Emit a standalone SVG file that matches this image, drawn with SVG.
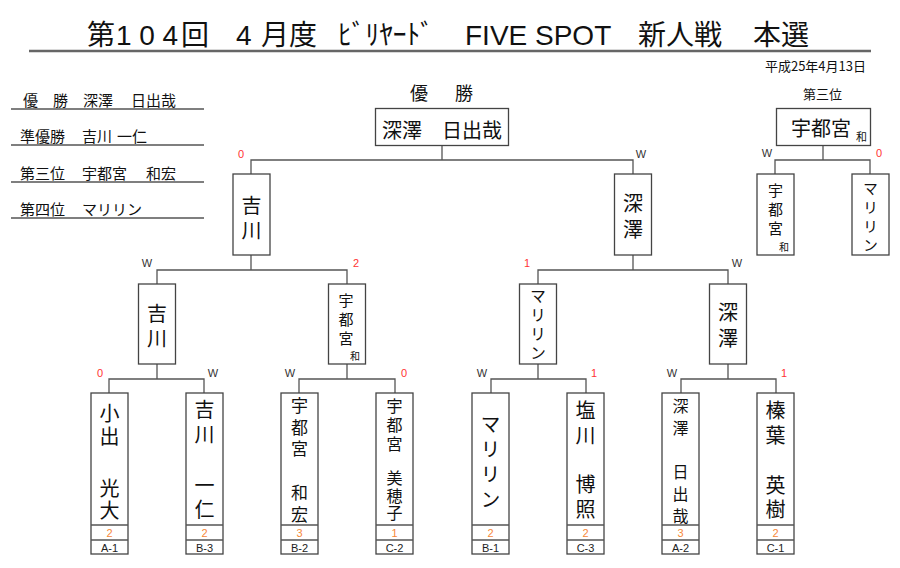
<svg xmlns="http://www.w3.org/2000/svg" width="900" height="568" viewBox="0 0 900 568">
<style>
.jp{font-family:"Noto Sans CJK JP","Liberation Sans",sans-serif;fill:#111}
.lat{font-family:"Liberation Sans","Noto Sans CJK JP",sans-serif}
.box{fill:#fff;stroke:#444;stroke-width:1.3}
.con{fill:none;stroke:#555;stroke-width:1.3}
.ul{stroke:#555;stroke-width:1.5}
.vt{writing-mode:vertical-rl;dominant-baseline:central}
.v{text-anchor:middle;dominant-baseline:central}
.w{font-family:"Liberation Sans",sans-serif;font-size:11px;fill:#333;text-anchor:middle}
.r{font-family:"Liberation Sans",sans-serif;font-size:11px;fill:#f33;text-anchor:middle}
.sc{font-family:"Liberation Sans",sans-serif;font-size:11px;fill:#f7883a;text-anchor:middle}
.lb{font-family:"Liberation Sans",sans-serif;font-size:11px;fill:#222;text-anchor:middle}
.f20{font-size:20px}.f17{font-size:17px}.f16{font-size:16px}.f15{font-size:15px}.f10{font-size:10px}
</style>
<rect width="900" height="568" fill="#fff"/>
<g id="title">
<text class="jp" y="45" font-size="28"><tspan x="87">第</tspan><tspan x="116" class="lat" textLength="62">104</tspan><tspan x="181">回</tspan><tspan x="236" class="lat">4</tspan><tspan x="261">月度</tspan><tspan x="338" textLength="96" lengthAdjust="spacingAndGlyphs">ﾋﾞﾘﾔｰﾄﾞ</tspan><tspan x="465" class="lat">FIVE SPOT</tspan><tspan x="638">新人戦</tspan><tspan x="753">本選</tspan></text>
<line x1="29" y1="51" x2="871" y2="51" stroke="#666" stroke-width="2.5"/>
<text class="jp" x="866" y="71" font-size="13" text-anchor="end">平成25年4月13日</text>
</g>
<g id="results">
<text class="jp" y="106" font-size="15"><tspan x="23">優</tspan><tspan x="53">勝</tspan><tspan x="83">深澤</tspan><tspan x="131">日出哉</tspan></text>
<text class="jp" y="142" font-size="15"><tspan x="20">準優勝</tspan><tspan x="82">吉川</tspan><tspan x="117">一仁</tspan></text>
<text class="jp" y="179" font-size="15"><tspan x="20">第三位</tspan><tspan x="82">宇都宮</tspan><tspan x="146">和宏</tspan></text>
<text class="jp" y="215" font-size="15"><tspan x="20">第四位</tspan><tspan x="82">マリリン</tspan></text>
<line class="ul" x1="11" y1="109" x2="204" y2="109"/>
<line class="ul" x1="11" y1="145" x2="204" y2="145"/>
<line class="ul" x1="11" y1="182" x2="204" y2="182"/>
<line class="ul" x1="11" y1="218" x2="204" y2="218"/>
</g>
<g id="connectors">
<path class="con" d="M442 146V160M251 174V160H633V174"/>
<path class="con" d="M251 255V270M157 284V270H347V284"/>
<path class="con" d="M633 255V270M538 284V270H728V284"/>
<path class="con" d="M157 364V379M109 393V379H204V393"/>
<path class="con" d="M347 364V379M299 393V379H395V393"/>
<path class="con" d="M538 364V379M491 393V379H586V393"/>
<path class="con" d="M728 364V379M681 393V379H776V393"/>
<path class="con" d="M823 146V160M775 174V160H870V174"/>
</g>
<g id="scores">
<text class="r" x="241" y="158">0</text><text class="w" x="641" y="158">W</text>
<text class="w" x="147" y="267">W</text><text class="r" x="356" y="267">2</text>
<text class="r" x="527" y="267">1</text><text class="w" x="737" y="267">W</text>
<text class="r" x="100" y="377">0</text><text class="w" x="213" y="377">W</text>
<text class="w" x="290" y="377">W</text><text class="r" x="404" y="377">0</text>
<text class="w" x="482" y="377">W</text><text class="r" x="594" y="377">1</text>
<text class="w" x="672" y="377">W</text><text class="r" x="784" y="377">1</text>
<text class="w" x="767" y="157">W</text><text class="r" x="879" y="157">0</text>
</g>
<g id="champion">
<text class="jp" y="100" font-size="18"><tspan x="410">優</tspan><tspan x="455">勝</tspan></text>
<rect class="box" x="375.5" y="108.5" width="133" height="37"/>
<text class="jp" x="382" y="138" font-size="20">深澤　日出哉</text>
</g>
<g id="third-place">
<text class="jp" x="803" y="99" font-size="13">第三位</text>
<rect class="box" x="776.5" y="108.5" width="94" height="37"/>
<text class="jp" x="791" y="136" font-size="20">宇都宮<tspan x="856" y="141" font-size="11">和</tspan></text>
</g>
<g id="semi-yoshikawa">
<rect class="box" x="233" y="174" width="37" height="81"/>
<text class="jp vt f20" x="251.5" y="195" letter-spacing="5">吉川</text>
</g>
<g id="semi-fukasawa">
<rect class="box" x="614.5" y="174" width="37" height="81"/>
<text class="jp vt f20" x="633" y="193" letter-spacing="6">深澤</text>
</g>
<g id="third-utsunomiya">
<rect class="box" x="757" y="174" width="37" height="81"/>
<text class="jp vt f15" x="775.5" y="182.5" letter-spacing="4">宇都宮</text>
<text class="jp v f10" x="784" y="246">和</text>
</g>
<g id="third-marilyn">
<rect class="box" x="852" y="174" width="37" height="81"/>
<text class="jp vt f15" x="870.5" y="180.5" letter-spacing="4">マリリン</text>
</g>
<g id="qf-yoshikawa">
<rect class="box" x="138.5" y="284" width="37" height="80"/>
<text class="jp vt f20" x="157" y="303" letter-spacing="5">吉川</text>
</g>
<g id="qf-utsunomiya">
<rect class="box" x="328.5" y="284" width="37" height="80"/>
<text class="jp vt f15" x="346" y="292.5" letter-spacing="4">宇都宮</text>
<text class="jp v f10" x="355" y="355">和</text>
</g>
<g id="qf-marilyn">
<rect class="box" x="519.5" y="284" width="37" height="80"/>
<text class="jp vt f16" x="538" y="288" letter-spacing="3">マリリン</text>
</g>
<g id="qf-fukasawa">
<rect class="box" x="709.5" y="284" width="37" height="80"/>
<text class="jp vt f20" x="728" y="302" letter-spacing="6">深澤</text>
</g>
<g id="p-oide">
<rect class="box" x="91" y="393" width="37" height="161"/><path class="con" d="M91 525H128M91 540H128"/>
<text class="jp vt f20" x="109.5" y="403" letter-spacing="3">小出</text>
<text class="jp vt f20" x="109.5" y="478" letter-spacing="2">光大</text>
<text class="sc" x="109.5" y="537">2</text><text class="lb" x="109.5" y="552">A-1</text>
</g>
<g id="p-yoshikawa">
<rect class="box" x="186" y="393" width="37" height="161"/><path class="con" d="M186 525H223M186 540H223"/>
<text class="jp vt f20" x="204.5" y="399" letter-spacing="5">吉川</text>
<text class="jp vt f20" x="204.5" y="475" letter-spacing="4">一仁</text>
<text class="sc" x="204.5" y="537">2</text><text class="lb" x="204.5" y="552">B-3</text>
</g>
<g id="p-utsunomiya-k">
<rect class="box" x="281" y="393" width="37" height="161"/><path class="con" d="M281 525H318M281 540H318"/>
<text class="jp vt f17" x="299.5" y="397.5" letter-spacing="4.5">宇都宮</text>
<text class="jp vt f17" x="299.5" y="484.5" letter-spacing="5">和宏</text>
<text class="sc" x="299.5" y="537">3</text><text class="lb" x="299.5" y="552">B-2</text>
</g>
<g id="p-utsunomiya-m">
<rect class="box" x="376" y="393" width="37" height="161"/><path class="con" d="M376 525H413M376 540H413"/>
<text class="jp vt f16" x="394.5" y="398" letter-spacing="3">宇都宮</text>
<text class="jp vt f16" x="394.5" y="470" letter-spacing="1.5">美穂子</text>
<text class="sc" x="394.5" y="537">1</text><text class="lb" x="394.5" y="552">C-2</text>
</g>
<g id="p-marilyn">
<rect class="box" x="472" y="393" width="37" height="161"/><path class="con" d="M472 525H509M472 540H509"/>
<text class="jp vt f20" x="490.5" y="414" letter-spacing="5">マリリン</text>
<text class="sc" x="490.5" y="537">2</text><text class="lb" x="490.5" y="552">B-1</text>
</g>
<g id="p-shiokawa">
<rect class="box" x="567" y="393" width="37" height="161"/><path class="con" d="M567 525H604M567 540H604"/>
<text class="jp vt f20" x="585.5" y="400" letter-spacing="5">塩川</text>
<text class="jp vt f20" x="585.5" y="474" letter-spacing="5">博照</text>
<text class="sc" x="585.5" y="537">2</text><text class="lb" x="585.5" y="552">C-3</text>
</g>
<g id="p-fukasawa">
<rect class="box" x="662" y="393" width="37" height="161"/><path class="con" d="M662 525H699M662 540H699"/>
<text class="jp vt f16" x="680.5" y="398" letter-spacing="6">深澤</text>
<text class="jp vt f16" x="680.5" y="464" letter-spacing="6">日出哉</text>
<text class="sc" x="680.5" y="537">3</text><text class="lb" x="680.5" y="552">A-2</text>
</g>
<g id="p-shinba">
<rect class="box" x="757" y="393" width="37" height="161"/><path class="con" d="M757 525H794M757 540H794"/>
<text class="jp vt f20" x="775.5" y="400" letter-spacing="5">榛葉</text>
<text class="jp vt f20" x="775.5" y="475" letter-spacing="4">英樹</text>
<text class="sc" x="775.5" y="537">2</text><text class="lb" x="775.5" y="552">C-1</text>
</g>
</svg>
